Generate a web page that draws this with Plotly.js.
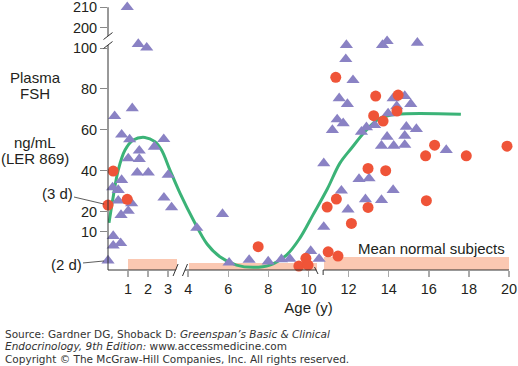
<!DOCTYPE html>
<html>
<head>
<meta charset="utf-8">
<script src="https://cdn.plot.ly/plotly-3.0.1.min.js"></script>
<style>html,body{margin:0;padding:0;background:#fff;}#chart{width:518px;height:366px;}</style>
</head>
<body>
<div id="chart"></div>
<script>
// ---- data (age in years, FSH in ng/mL as plotted) ----
const triangleAge = [0.96,1.51,1.93,1.21,0.33,0.68,1.08,2.78,2.31,1.56,1.01,1.56,1.46,2.01,3.0,0.68,0.23,0.51,2.79,0.51,1.18,3.17,1.01,0.65,4.43,0.26,0.26,0.63,0,5.71,6.04,7.04,7.99,8.65,9.07,10.11,10.53,10.76,10.76,12.52,13.02,11.64,12.84,13.64,14.22,11.97,13.64,14.25,14.8,11.89,13.69,13.92,11.86,12.22,11.53,11.94,14.22,14.8,15.1,14.4,11.43,11.73,11.19,13.97,13.3,12.89,12.64,14.88,15.38,13.92,14.8,16.87,15.43];
const triangleFSH = [210,102,100.2,70.5,66.7,57.6,55.3,55.4,51.7,49.8,46,45.7,39,39,37.9,35.4,31.8,30.5,26.8,25.3,24,22,20.3,18.3,12,8,3.3,4.5,-4,18.8,-5,-3.7,-4.5,-3.4,-3.2,0.7,-3.2,12.5,43.6,35.9,36.2,30.2,26,25.6,30.5,21,52.2,52.2,52.6,101.5,101.5,103.4,94.6,84.3,75.4,72.6,75.4,76.5,72.6,71.5,65.1,63.2,59.9,68,62.3,61.2,59,61.5,60.4,56.6,57.1,50.1,102.6];
const circleAge = [0.26,0.96,0,7.49,9.87,9.52,9.98,10.93,10.98,11.47,11.39,12.97,13.85,12.97,12.14,11.36,13.35,14.47,14.41,13.25,13.72,16.29,15.84,17.87,19.9,15.88];
const circleFSH = [39.8,26,23.2,2.8,-2.9,-6.7,-6.2,22.2,0.3,-1.8,26.1,41.1,40,22,14.2,85.7,76.5,77,69.2,66.9,64.3,52.5,47.3,47.3,52,25.3];
const curveAge = [0.05,0.26,0.51,0.85,1.26,1.84,2.34,2.67,3.09,3.59,4.25,4.95,5.58,6.41,7.24,8.07,8.9,9.57,10.23,10.95,11.56,12.14,12.89,13.55,14.4,17.6];
const curveFSH = [14.5,27.3,40.3,50.1,55,56.3,54.2,50.1,40.3,29,16,4,-2.1,-6.2,-7.3,-6.2,-1.3,7,18.5,31.3,43.6,51,59.9,65.6,67.6,67.6];
const normalStart = [1, 4.05, 10.76];
const normalEnd = [3.45, 10.4, 20];
const normalTop = [-3.4, -5.3, -2.4];
const xTickVals = [1,2,3,4,6,8,10,12,14,16,18,20];
const yTickVals = [10,20,40,60,80,100,200,210];

// broken y axis: values of 200 and above are drawn 90 units lower
function toAxis(v) { return v >= 150 ? v - 90 : v; }

const Y_MIN = -8.6, Y_MAX = 120.6;
const L = 108, T = 6, PW = 401.3, PH = 264;
const FONT = 'Liberation Sans, Arial, Helvetica, sans-serif';
const CREDIT_FONT = {family: 'DejaVu Sans, Verdana, sans-serif', size: 10.5, color: '#333'};
const INK = '#231f20';

const bars = {
  type: 'bar',
  x: normalStart.map((s, i) => (s + normalEnd[i]) / 2),
  width: normalStart.map((s, i) => normalEnd[i] - s),
  y: normalTop.map(t => t - Y_MIN),
  base: normalTop.map(() => Y_MIN),
  marker: {color: '#fbc8b2', line: {width: 0}},
  hoverinfo: 'skip', showlegend: false
};
const curve = {
  type: 'scatter', mode: 'lines', x: curveAge, y: curveFSH.map(toAxis),
  line: {color: '#3bb377', width: 3, shape: 'spline', smoothing: 1},
  showlegend: false, hoverinfo: 'skip'
};
const tri = {
  type: 'scatter', mode: 'markers', x: triangleAge, y: triangleFSH.map(toAxis),
  marker: {symbol: 'triangle-up', size: 11.5, color: '#8a82c4', line: {width: 0}},
  cliponaxis: false, showlegend: false
};
const dots = {
  type: 'scatter', mode: 'markers', x: circleAge, y: circleFSH.map(toAxis),
  marker: {symbol: 'circle', size: 11, color: '#ef5438', line: {width: 0}},
  cliponaxis: false, showlegend: false
};

// pixel-placed text helper
function pix(text, px, py, opts) {
  return Object.assign({
    text: text, xref: 'paper', yref: 'paper', x: 0, y: 0,
    xshift: px - L, yshift: (T + PH) - py, showarrow: false,
    xanchor: 'center', yanchor: 'middle',
    font: {family: FONT, size: 15, color: INK}
  }, opts || {});
}

const annotations = [
  pix('Plasma', 35, 77),
  pix('FSH', 35, 93),
  pix('ng/mL', 35, 142),
  pix('(LER 869)', 35, 158),
  pix('Mean normal subjects', 431, 248),
  {text: '(3 d)', x: 0, y: toAxis(23.2), xref: 'x', yref: 'y', showarrow: true,
   arrowhead: 0, arrowwidth: 0.8, arrowcolor: '#333', ax: -51, ay: -12, standoff: 4,
   font: {family: FONT, size: 15, color: INK}},
  {text: '(2 d)', x: 0, y: toAxis(-4), xref: 'x', yref: 'y', showarrow: true,
   arrowhead: 0, arrowwidth: 0.8, arrowcolor: '#333', ax: -42, ay: 4, standoff: 4,
   font: {family: FONT, size: 15, color: INK}},
  pix('Source: Gardner DG, Shoback D: <i>Greenspan\u2019s Basic &amp; Clinical</i>', 3, 334,
      {xanchor: 'left', font: CREDIT_FONT}),
  pix('<i>Endocrinology, 9th Edition:</i> www.accessmedicine.com', 3, 346,
      {xanchor: 'left', font: CREDIT_FONT}),
  pix('Copyright \u00a9 The McGraw-Hill Companies, Inc. All rights reserved.', 3, 358.5,
      {xanchor: 'left', font: CREDIT_FONT})
];

// axis lines with breaks
const axisLine = {color: '#333', width: 1};
function slashX(xv) {
  return {type: 'line', xref: 'x', yref: 'paper', xsizemode: 'pixel', ysizemode: 'pixel',
          xanchor: xv, yanchor: 0, x0: -2.5, x1: 2.5, y0: -6, y1: 6, line: axisLine};
}
function slashY(yv) {
  return {type: 'line', xref: 'paper', yref: 'y', xsizemode: 'pixel', ysizemode: 'pixel',
          xanchor: 0, yanchor: yv, x0: -4.5, x1: 4.5, y0: -3.5, y1: 3.5, line: axisLine};
}
const shapes = [
  {type: 'line', xref: 'x', yref: 'paper', x0: 0, x1: 3.37, y0: 0, y1: 0, line: axisLine},
  {type: 'line', xref: 'x', yref: 'paper', x0: 3.84, x1: 10.4, y0: 0, y1: 0, line: axisLine},
  {type: 'line', xref: 'x', yref: 'paper', x0: 10.73, x1: 20, y0: 0, y1: 0, line: axisLine},
  slashX(3.37), slashX(3.84),
  {type: 'line', xref: 'x', yref: 'paper', xsizemode: 'pixel', ysizemode: 'pixel', xanchor: 10.4, yanchor: 0,
   x0: -2, x1: 1.5, y0: 3, y1: -4, line: axisLine},
  {type: 'line', xref: 'x', yref: 'paper', xsizemode: 'pixel', ysizemode: 'pixel', xanchor: 10.73, yanchor: 0,
   x0: 0, x1: 0, y0: 0, y1: -5, line: axisLine},
  {type: 'line', xref: 'paper', yref: 'y', x0: 0, x1: 0, y0: Y_MIN, y1: 101.5, line: axisLine},
  {type: 'line', xref: 'paper', yref: 'y', x0: 0, x1: 0, y0: 105.9, y1: 120, line: axisLine},
  slashY(101.5), slashY(105.9)
];

const layout = {
  width: 518, height: 366,
  margin: {l: L, r: 518 - L - PW, t: T, b: 366 - T - PH, pad: 0},
  paper_bgcolor: '#fff', plot_bgcolor: '#fff',
  barmode: 'overlay', bargap: 0,
  showlegend: false,
  xaxis: {
    range: [0, 20], showgrid: false, zeroline: false, showline: false,
    tickmode: 'array', tickvals: xTickVals, ticktext: xTickVals.map(String),
    ticks: 'outside', ticklen: 6, tickcolor: '#aaa', tickwidth: 1.5,
    ticklabeloverflow: 'allow',
    tickfont: {family: FONT, size: 14.5, color: INK},
    title: {text: 'Age (y)', font: {family: FONT, size: 15, color: INK}, standoff: 6}
  },
  yaxis: {
    range: [Y_MIN, Y_MAX], showgrid: false, zeroline: false, showline: false,
    tickmode: 'array', tickvals: yTickVals.map(toAxis), ticktext: yTickVals.map(String),
    ticks: 'outside', ticklen: 7, tickcolor: '#888', tickwidth: 1,
    ticklabeloverflow: 'allow',
    tickfont: {family: FONT, size: 14.5, color: INK}
  },
  annotations: annotations,
  shapes: shapes
};

Plotly.newPlot('chart', [bars, curve, tri, dots], layout, {staticPlot: true, displayModeBar: false});
</script>
</body>
</html>
